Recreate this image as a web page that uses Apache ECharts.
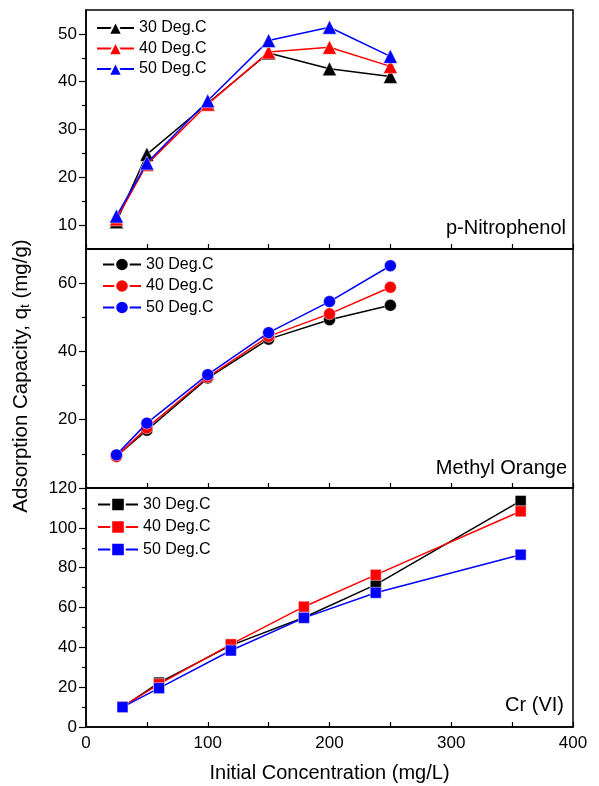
<!DOCTYPE html>
<html>
<head>
<meta charset="utf-8">
<script src="https://cdn.jsdelivr.net/npm/echarts@6/dist/echarts.min.js"></script>
<style>
html,body{margin:0;padding:0;background:#fff;}
#chart{width:599px;height:786px;}
</style>
</head>
<body>
<div id="chart"></div>
<script>
// ---- data ----
const tempLabels = ['30 Deg.C', '40 Deg.C', '50 Deg.C'];
const colors = ['#000000', '#ff0000', '#0000ff'];

const xPN = [25, 50, 100, 150, 200, 250];
const pn30 = [10.7, 24.8, 35.5, 46.0, 42.7, 41.1];
const pn40 = [11.3, 22.7, 35.3, 46.2, 47.2, 43.2];
const pn50 = [11.9, 23.0, 36.0, 48.6, 51.4, 45.3];

const xMO = [25, 50, 100, 150, 200, 250];
const mo30 = [9.3, 16.9, 32.2, 43.6, 49.3, 53.5];
const mo40 = [9.2, 17.6, 32.5, 44.4, 51.0, 58.8];
const mo50 = [9.7, 19.0, 33.2, 45.5, 54.6, 65.1];

const xCr = [30, 60, 119, 179, 238, 357];
const cr30 = [10.0, 22.3, 41.0, 55.0, 71.5, 113.5];
const cr40 = [10.2, 21.5, 41.5, 60.4, 76.4, 108.3];
const cr50 = [10.0, 19.5, 38.4, 54.8, 67.4, 86.5];

const panelNames = ['p-Nitrophenol', 'Methyl Orange', 'Cr (VI)'];
const xTicks = [0, 50, 100, 150, 200, 250, 300, 350, 400];
const xLabels = [0, 100, 200, 300, 400];
const yMajor = [[10, 20, 30, 40, 50], [20, 40, 60], [0, 20, 40, 60, 80, 100, 120]];
const yMinor = [[15, 25, 35, 45], [10, 30, 50], [10, 30, 50, 70, 90, 110]];
const yRange = [[5, 55], [0, 70], [0, 120]];

// ---- chart ----
const FONT = '"Liberation Sans", Arial, sans-serif';
const chart = echarts.init(document.getElementById('chart'));

const grids = [
  {left: 86, right: 26, top: 10, height: 239},
  {left: 86, right: 26, top: 249, height: 239},
  {left: 86, right: 26, top: 488, height: 239}
].map(g => Object.assign(g, {show: true, borderColor: '#000', borderWidth: 1.5, backgroundColor: 'transparent'}));

const xAxes = [0, 1, 2].map(i => ({
  type: 'value', gridIndex: i, min: 0, max: 400, interval: 50, position: 'bottom',
  axisLine: {show: true, lineStyle: {color: '#000', width: 1.5}},
  axisTick: {show: true, inside: true, length: 5, lineStyle: {color: '#000', width: 1.2}, customValues: xTicks},
  axisLabel: {show: i === 2, customValues: xLabels, color: '#000', fontSize: 17, fontFamily: FONT, margin: 8},
  splitLine: {show: false},
  name: i === 2 ? 'Initial Concentration (mg/L)' : '',
  nameLocation: 'middle', nameGap: 36,
  nameTextStyle: {color: '#000', fontSize: 20, fontFamily: FONT}
}));

const yAxes = [];
[0, 1, 2].forEach(i => {
  yAxes.push({
    type: 'value', gridIndex: i, min: yRange[i][0], max: yRange[i][1], position: 'left',
    axisLine: {show: true, lineStyle: {color: '#000', width: 1.5}},
    axisTick: {show: true, inside: false, length: 7, lineStyle: {color: '#000', width: 1.2}, customValues: yMajor[i]},
    axisLabel: {show: true, customValues: yMajor[i], color: '#000', fontSize: 17, fontFamily: FONT, margin: 9},
    splitLine: {show: false}
  });
  yAxes.push({
    type: 'value', gridIndex: i, min: yRange[i][0], max: yRange[i][1], position: 'left', offset: 0,
    axisLine: {show: false},
    axisTick: {show: true, inside: false, length: 4, lineStyle: {color: '#000', width: 1.2}, customValues: yMinor[i]},
    axisLabel: {show: false},
    splitLine: {show: false}
  });
});

const panels = [
  {x: xPN, ys: [pn30, pn40, pn50], symbol: 'triangle', size: 14, key: 'pn'},
  {x: xMO, ys: [mo30, mo40, mo50], symbol: 'circle', size: 12, key: 'mo'},
  {x: xCr, ys: [cr30, cr40, cr50], symbol: 'rect', size: 11, key: 'cr'}
];

const series = [];
const legends = [];
const nameMap = {};
const legendPos = [
  {left: 96, top: 20, itemWidth: 37, itemGap: 4.5},
  {left: 102, top: 256.5, itemWidth: 38, itemGap: 5.5},
  {left: 97, top: 496.5, itemWidth: 40, itemGap: 6.5}
];
panels.forEach((p, i) => {
  const names = [];
  p.ys.forEach((ys, k) => {
    const nm = p.key + k;
    nameMap[nm] = tempLabels[k];
    names.push(nm);
    series.push({
      type: 'line', name: nm, xAxisIndex: i, yAxisIndex: i * 2,
      data: p.x.map((xv, j) => [xv, ys[j]]),
      symbol: p.symbol, symbolSize: p.size,
      lineStyle: {color: colors[k], width: 1.5},
      itemStyle: {color: colors[k], borderColor: '#fff', borderWidth: 0.5},
      z: 2 + k, animation: false
    });
  });
  legends.push(Object.assign({
    orient: 'vertical', data: names, itemHeight: 17, padding: 0,
    selectedMode: false,
    formatter: n => nameMap[n],
    textStyle: {color: '#000', fontSize: 16, fontFamily: FONT}
  }, legendPos[i]));
});

const option = {
  backgroundColor: '#fff',
  animation: false,
  grid: grids,
  xAxis: xAxes,
  yAxis: yAxes,
  legend: legends,
  series: series,
  graphic: [
    {type: 'text', x: 566, y: 228, style: {text: panelNames[0], fill: '#000', font: '20px ' + FONT, textAlign: 'right', textVerticalAlign: 'middle'}},
    {type: 'text', x: 567, y: 468, style: {text: panelNames[1], fill: '#000', font: '20px ' + FONT, textAlign: 'right', textVerticalAlign: 'middle'}},
    {type: 'text', x: 564, y: 705, style: {text: panelNames[2], fill: '#000', font: '20px ' + FONT, textAlign: 'right', textVerticalAlign: 'middle'}},
    {type: 'text', x: 20, y: 376, rotation: Math.PI / 2,
      style: {
        text: '{a|Adsorption Capacity, q}{s|t}{a| (mg/g)}',
        textAlign: 'center', textVerticalAlign: 'middle',
        rich: {
          a: {fontSize: 20.5, fontFamily: FONT, fill: '#000', lineHeight: 24, verticalAlign: 'bottom'},
          s: {fontSize: 13, fontFamily: FONT, fill: '#000', lineHeight: 24, verticalAlign: 'bottom', padding: [8, 0, 0, 0]}
        }
      }}
  ]
};
chart.setOption(option);
</script>
</body>
</html>
